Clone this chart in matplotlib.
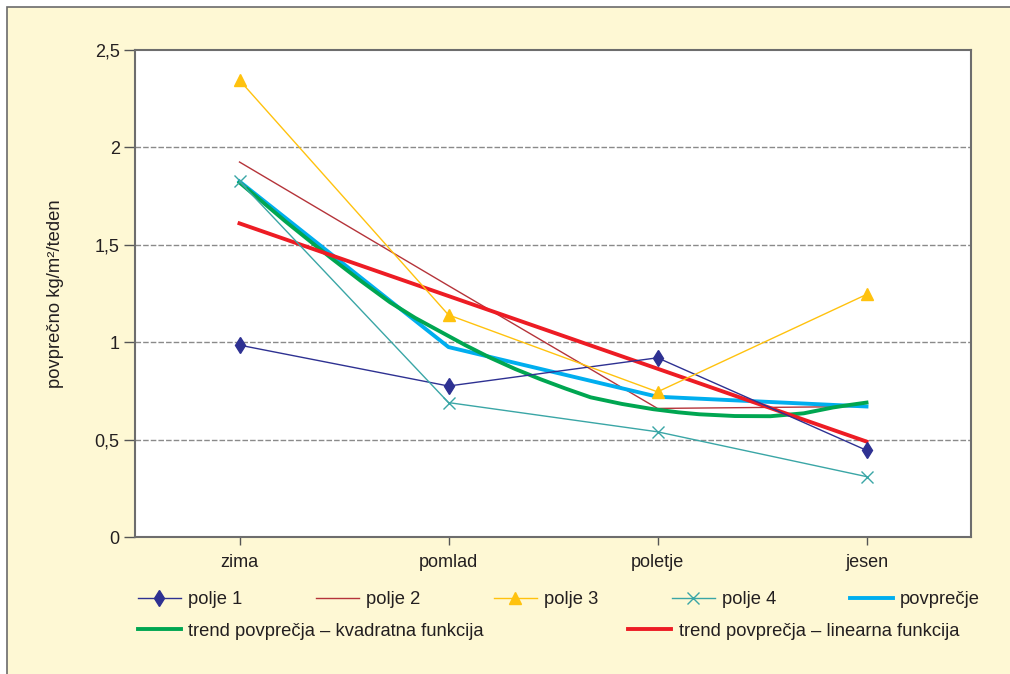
import matplotlib
matplotlib.use('Agg')
import matplotlib.pyplot as plt
from matplotlib.patches import Rectangle
from matplotlib.ticker import FixedLocator, FuncFormatter

plt.rcParams['font.family'] = ['Liberation Sans', 'DejaVu Sans']

# podatki (odčitano s slike)
seasons = ['zima', 'pomlad', 'poletje', 'jesen']
polje_1 = [0.985, 0.775, 0.92, 0.445]
polje_2 = [1.925, 1.29, 0.66, 0.67]
polje_3 = [2.345, 1.14, 0.745, 1.245]
polje_4 = [1.825, 0.69, 0.54, 0.31]
povprecje = [1.825, 0.975, 0.72, 0.67]
trend_lin = [1.61, 1.237, 0.864, 0.49]
# kvadratni trend - točke odčitane vzdolž krivulje (x = indeks sezone)
trend_kv_x = [0.0, 0.11, 0.22, 0.33, 0.435, 0.58, 0.72, 0.84, 0.96, 1.08, 1.2, 1.32,
              1.44, 1.56, 1.68, 1.83, 1.98, 2.1, 2.2, 2.37, 2.54, 2.7, 2.84, 2.92, 3.0]
trend_kv_y = [1.82, 1.72, 1.62, 1.525, 1.435, 1.315, 1.205, 1.125, 1.055, 0.985, 0.92, 0.862,
              0.81, 0.762, 0.717, 0.683, 0.656, 0.64, 0.63, 0.621, 0.62, 0.635, 0.665, 0.678, 0.69]

y_ticks = [0, 0.5, 1, 1.5, 2, 2.5]

cream = '#FEF8D4'
txt = '#231F20'

fig = plt.figure(figsize=(10.1, 6.74), dpi=100, facecolor='white')
# kremno ozadje z robom zgoraj in levo
fig.patches.append(Rectangle((7 / 1010, -0.05), 1.2, (674 - 7) / 674 + 0.05,
                             transform=fig.transFigure, facecolor=cream,
                             edgecolor='#6b6b6b', linewidth=1.2, zorder=-5))

ax = fig.add_axes([135 / 1010, 137 / 674, 836 / 1010, 487 / 674])
ax.set_zorder(2)
ax.set_facecolor('white')

x = list(range(len(seasons)))

ax.plot(x, polje_1, color='#2E3192', linewidth=1.0, marker='d', markersize=8.5,
        label='polje 1', zorder=4)
ax.plot(x, polje_2, color='#B5343A', linewidth=1.0, label='polje 2', zorder=3)
ax.plot(x, polje_3, color='#FFC20E', linewidth=1.0, marker='^', markersize=9,
        label='polje 3', zorder=4)
ax.plot(x, polje_4, color='#3AA6A6', linewidth=1.0, marker='x', markersize=9,
        markeredgewidth=1.0, label='polje 4', zorder=4)
ax.plot(x, povprecje, color='#00AEEF', linewidth=2.8, label='povprečje', zorder=3)
ax.plot(trend_kv_x, trend_kv_y, color='#00A651', linewidth=2.8,
        label='trend povprečja – kvadratna funkcija', zorder=3)
ax.plot(x, trend_lin, color='#ED1C24', linewidth=2.8,
        label='trend povprečja – linearna funkcija', zorder=3)

ax.set_xlim(-0.5, 3.5)
ax.set_ylim(0, 2.5)
ax.set_xticks(x)
ax.set_xticklabels(seasons)
ax.yaxis.set_major_locator(FixedLocator(y_ticks))
ax.yaxis.set_major_formatter(FuncFormatter(lambda v, p: ('%g' % v).replace('.', ',')))

for v in y_ticks[1:-1]:
    ax.axhline(v, color='#8a8a8a', linewidth=1.0, linestyle=(0, (4, 1.5)), zorder=1)

for s in ax.spines.values():
    s.set_color('#6d6d6d')
    s.set_linewidth(1.5)

ax.tick_params(axis='y', direction='out', length=8, width=1, color='#555555',
               labelsize=13, labelcolor=txt, pad=3)
ax.tick_params(axis='x', direction='out', length=6, width=1, color='#555555',
               labelsize=13, labelcolor=txt, pad=6)

ax.set_ylabel('povprečno kg/m²/teden', fontsize=13.2, color=txt)
ax.yaxis.set_label_coords(-(135 - 64) / 836, 0.5)

h, l = ax.get_legend_handles_labels()
leg1 = fig.legend(h[:5], l[:5], loc='center left', bbox_to_anchor=(121 / 1010, 1 - 600 / 674),
                  ncol=5, frameon=False, fontsize=13.2, handlelength=2.35,
                  handletextpad=0.4, columnspacing=4.0, labelcolor=txt)
leg2 = fig.legend(h[5:], l[5:], loc='center left', bbox_to_anchor=(121 / 1010, 1 - 631 / 674),
                  ncol=2, frameon=False, fontsize=13.2, handlelength=2.35,
                  handletextpad=0.4, columnspacing=7.9, labelcolor=txt)

fig.savefig('out.png', dpi=100, facecolor=fig.get_facecolor())
